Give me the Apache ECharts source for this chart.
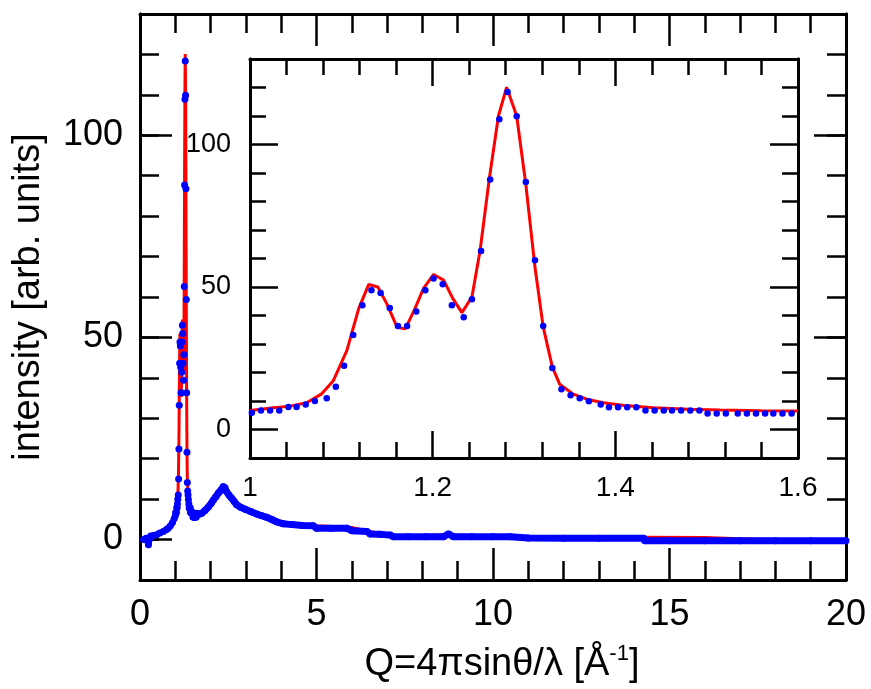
<!DOCTYPE html>
<html>
<head>
<meta charset="utf-8">
<script src="https://cdn.jsdelivr.net/npm/echarts@6/dist/echarts.min.js"></script>
<style>html,body{margin:0;padding:0;background:#fff}#c{width:871px;height:689px}</style>
</head>
<body>
<div id="c"></div>
<script>
// ---- data ----
// low-Q part of the measured curve (main panel)
const lowQ = [0.10,0.17,0.24,0.30,0.38,0.47,0.56,0.66,0.74,0.80,0.86,0.92,0.97];
const lowI = [0.0,0.3,-1.3,0.9,1.0,1.2,1.6,2.0,2.4,2.8,3.4,4.2,5.2];
// measured points in the inset window 1.0 - 1.6
const insetQ = [1.002,1.012,1.022,1.032,1.042,1.051,1.061,1.071,1.084,1.094,1.103,1.113,1.123,1.133,1.143,1.153,1.162,1.172,1.182,1.192,1.201,1.211,1.221,1.234,1.243,1.253,1.263,1.273,1.282,1.292,1.302,1.312,1.321,1.331,1.341,1.351,1.361,1.371,1.384,1.393,1.403,1.413,1.423,1.433,1.443,1.453,1.462,1.472,1.482,1.492,1.501,1.511,1.521,1.534,1.544,1.554,1.564,1.573,1.583,1.593];
const insetI = [5.9,6.7,6.7,6.7,7.9,7.9,8.8,10.0,11.0,15.0,22.4,33.2,43.6,48.9,47.9,42.6,36.3,36.3,41.4,48.9,53.0,51.0,43.6,39.4,45.7,62.6,87.7,108.9,118.4,109.9,86.8,59.4,36.3,21.6,14.1,12.0,11.0,9.9,8.8,7.8,7.8,7.8,7.8,6.7,6.7,6.7,6.7,6.7,6.7,6.7,5.6,5.6,5.6,5.6,5.6,5.6,5.6,5.6,5.6,5.6];
// high-Q part of the measured curve
const highQ = [1.61,1.68,1.75,1.84,1.94,2.02,2.08,2.15,2.22,2.30,2.36,2.41,2.45,2.52,2.60,2.67,2.74,2.85,2.98,3.15,3.31,3.45,3.59,3.75,3.87,4.06,4.3,4.6,4.91,5.0,5.4,5.86,6.0,6.43,6.52,6.8,7.09,7.18,7.6,8.1,8.6,8.74,8.88,9.4,10.0,10.49,11.0,12.0,13.0,14.27,14.3,15.0,16.0,17.0,18.0,19.0,20.0];
const highI = [6.5,6.3,6.5,7.2,8.1,9.0,9.8,10.6,11.5,12.3,13.1,12.8,11.9,11.0,10.2,9.4,8.6,8.0,7.5,6.9,6.3,5.9,5.5,4.9,4.4,3.9,3.7,3.5,3.4,2.8,2.8,2.8,2.2,2.0,1.4,1.3,1.1,0.7,0.7,0.7,0.7,1.4,0.7,0.7,0.7,0.7,0.4,0.3,0.3,0.3,-0.3,-0.3,-0.3,-0.3,-0.3,-0.3,-0.3];
// fit curve (red) inside the inset window
const fitQ = [1.000,1.026,1.044,1.062,1.078,1.091,1.106,1.119,1.130,1.140,1.150,1.161,1.170,1.180,1.190,1.201,1.212,1.222,1.232,1.243,1.252,1.262,1.272,1.281,1.292,1.302,1.312,1.321,1.331,1.339,1.354,1.370,1.387,1.410,1.442,1.480,1.515,1.560,1.600];
const fitI = [6.7,7.6,8.2,9.4,12.4,17.0,27.7,42.4,50.9,50.0,44.0,35.9,35.3,42.0,49.5,54.4,52.4,46.0,41.0,46.5,63.0,88.0,110.0,120.1,110.0,86.0,57.0,36.0,22.0,15.9,12.4,10.5,9.4,8.4,7.6,7.1,6.8,6.6,6.5];
// fit curve outside the inset window
const fitLowQ = [0.10,0.30,0.50,0.70,0.85,0.95];
const fitLowI = [0.2,0.8,1.4,2.2,3.2,5.0];
const fitHighQ = [1.65,1.75,2.0,2.2,2.38,2.55,2.7,3.0,3.5,4.0,5.0,6.0,6.5,7.2,8.0,8.7,10.0,12.0,14.3,16.0,17.0,18.0,20.0];
const fitHighI = [6.5,6.5,8.8,11.0,12.8,11.0,9.0,7.4,5.8,4.2,3.4,3.0,2.0,1.0,1.0,1.2,0.8,0.6,0.6,0.5,0.2,0.0,0.0];
// axis ticks
const mainXTicks = {min: 0, max: 20, interval: 5};
const insetXTicks = {min: 1.0, max: 1.6, interval: 0.2};
const yRange = {min: -10, max: 130, interval: 10};      // minor ticks every 10
const yMajorRange = {min: 0, max: 130, interval: 50};   // long ticks at 0, 50, 100
const yMajor = [0, 50, 100];

const pairs = (q, v) => q.map((x, i) => [x, v[i]]);
const FONT = 'Liberation Sans, Arial, sans-serif';
const BLUE = '#0000ff', RED = '#ff0000';

// layout (pixels)
const MAIN = {left: 140, top: 14, width: 706, height: 566};
const INSET = {left: 250, top: 59, width: 548, height: 399};
// grids holding the long y ticks: same box, but bottom at the value 0
const mainMajH = MAIN.height * (yRange.max - 0) / (yRange.max - yRange.min);
const insetMajH = INSET.height * (yRange.max - 0) / (yRange.max - yRange.min);

const chart = echarts.init(document.getElementById('c'), null, {renderer: 'canvas'});

const tickStyle = {color: '#000', width: 2.5};
function xAx(grid, pos, rng, major, minor, showLabel, labelSize, margin, z, extra) {
  return Object.assign({
    type: 'value', gridIndex: grid, position: pos,
    min: rng.min, max: rng.max, interval: rng.interval, z: z,
    axisLine: {show: true, onZero: false, lineStyle: {color: '#000', width: 3}},
    axisTick: {show: true, inside: true, length: major, lineStyle: tickStyle},
    minorTick: {show: true, splitNumber: 5, length: minor, lineStyle: tickStyle},
    splitLine: {show: false}, minorSplitLine: {show: false},
    axisLabel: {show: showLabel, fontSize: labelSize, color: '#000', fontFamily: FONT, margin: margin, showMinLabel: true, showMaxLabel: true, hideOverlap: false}
  }, extra || {});
}
function yMinor(grid, pos, len, showLabel, labelSize, margin, z, extra) {
  return Object.assign({
    type: 'value', gridIndex: grid, position: pos,
    min: yRange.min, max: yRange.max, interval: yRange.interval, z: z,
    axisLine: {show: true, onZero: false, lineStyle: {color: '#000', width: 3}},
    axisTick: {show: true, inside: true, length: len, lineStyle: tickStyle},
    splitLine: {show: false},
    axisLabel: {show: showLabel, fontSize: labelSize, color: '#000', fontFamily: FONT, margin: margin,
      showMinLabel: true, showMaxLabel: true, hideOverlap: false,
      formatter: v => (yMajor.indexOf(v) >= 0 ? String(v) : '')}
  }, extra || {});
}
function yMajorAx(grid, pos, len, z) {
  return {
    type: 'value', gridIndex: grid, position: pos,
    min: yMajorRange.min, max: yMajorRange.max, interval: yMajorRange.interval, z: z,
    axisLine: {show: true, onZero: false, lineStyle: {color: '#000', width: 3}},
    axisTick: {show: true, inside: true, length: len, lineStyle: tickStyle},
    splitLine: {show: false},
    axisLabel: {show: false}
  };
}
const hiddenX = g => ({type: 'value', gridIndex: g, show: false, min: 0, max: 1});

const option = {
  animation: false,
  backgroundColor: '#fff',
  grid: [
    Object.assign({containLabel: false}, MAIN),
    Object.assign({containLabel: false, show: true, backgroundColor: '#fff', borderWidth: 0, z: 10}, INSET),
    {left: MAIN.left, top: MAIN.top, width: MAIN.width, height: mainMajH, containLabel: false},
    {left: INSET.left, top: INSET.top, width: INSET.width, height: insetMajH, containLabel: false, z: 11}
  ],
  xAxis: [
    xAx(0, 'bottom', mainXTicks, 32, 19, true, 36, 17, 2, {
      name: '{a|Q=4πsinθ/λ [Å}{s|-1}{a|]}', nameLocation: 'middle', nameGap: 63,
      nameTextStyle: {padding: [0, 0, 0, 18], rich: {
        a: {fontSize: 38, color: '#000', fontFamily: FONT, lineHeight: 44},
        s: {fontSize: 22, color: '#000', fontFamily: FONT, lineHeight: 44, verticalAlign: 'top'}
      }}
    }),
    xAx(0, 'top', mainXTicks, 32, 19, false, 36, 14, 2),
    xAx(1, 'bottom', insetXTicks, 27, 16, true, 28, 16, 12),
    xAx(1, 'top', insetXTicks, 27, 16, false, 28, 16, 12),
    hiddenX(2),
    hiddenX(3)
  ],
  yAxis: [
    yMinor(0, 'left', 19, true, 36, 17, 2, {
      name: 'intensity [arb. units]', nameLocation: 'middle', nameGap: 92, nameRotate: 90,
      nameTextStyle: {fontSize: 38, color: '#000', fontFamily: FONT}
    }),
    yMinor(0, 'right', 19, false, 36, 17, 2),
    yMinor(1, 'left', 16, true, 27, 19, 12),
    yMinor(1, 'right', 16, false, 27, 19, 12),
    yMajorAx(2, 'left', 32, 3),
    yMajorAx(2, 'right', 32, 3),
    yMajorAx(3, 'left', 28, 12),
    yMajorAx(3, 'right', 28, 12)
  ],
  series: [
    // main panel: fit (red)
    {type: 'line', xAxisIndex: 0, yAxisIndex: 0, z: 2, showSymbol: false, silent: true,
     data: pairs(fitLowQ.concat(fitQ).concat(fitHighQ), fitLowI.concat(fitI).concat(fitHighI)),
     lineStyle: {color: RED, width: 3}},
    // main panel: dense measured band (blue)
    {type: 'line', xAxisIndex: 0, yAxisIndex: 0, z: 3, showSymbol: false, silent: true,
     data: pairs(lowQ, lowI), lineStyle: {color: BLUE, width: 6}},
    {type: 'line', xAxisIndex: 0, yAxisIndex: 0, z: 3, showSymbol: false, silent: true,
     data: pairs(highQ, highI), lineStyle: {color: BLUE, width: 7}},
    // main panel: measured points
    {type: 'scatter', xAxisIndex: 0, yAxisIndex: 0, z: 4, symbolSize: 7, silent: true,
     itemStyle: {color: BLUE, opacity: 1},
     data: pairs(lowQ.concat(insetQ).concat(highQ), lowI.concat(insetI).concat(highI))},
    // inset: fit
    {type: 'line', xAxisIndex: 2, yAxisIndex: 2, z: 13, showSymbol: false, silent: true,
     data: pairs(fitQ, fitI), lineStyle: {color: RED, width: 3}},
    // inset: measured points
    {type: 'scatter', xAxisIndex: 2, yAxisIndex: 2, z: 14, symbolSize: 6.5, silent: true,
     itemStyle: {color: BLUE, opacity: 1}, data: pairs(insetQ, insetI)}
  ]
};
chart.setOption(option);
</script>
</body>
</html>
